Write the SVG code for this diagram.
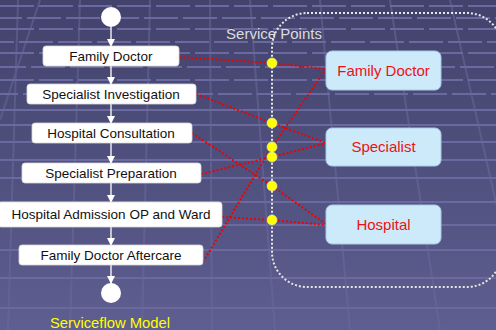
<svg xmlns="http://www.w3.org/2000/svg" width="496" height="330" viewBox="0 0 496 330">
<defs>
<linearGradient id="bg" x1="0" y1="0" x2="0" y2="1">
<stop offset="0" stop-color="#42426c"/>
<stop offset="1" stop-color="#5e5e90"/>
</linearGradient>
<marker id="ah" markerWidth="8" markerHeight="8" refX="7" refY="4" orient="auto" markerUnits="userSpaceOnUse">
<path d="M0,0 L8,4 L0,8 Z" fill="#ffffff"/>
</marker>
<style>
.stripe{stroke:#6a6aa0;stroke-width:2;fill:none}
.tile{stroke:#6a6aa0;stroke-width:2;fill:none;stroke-dasharray:34 5}
.persp{stroke:#6a6a9c;stroke-width:2;fill:none;opacity:0.55}
.flow{fill:#ffffff;stroke:#d8d8d8;stroke-width:0.8}
.ft{font-family:"Liberation Sans",Arial,sans-serif;font-size:13.5px;fill:#111111;text-anchor:middle}
.svc{fill:#cdeafa;stroke:#a9c8e4;stroke-width:1}
.st{font-family:"Liberation Sans",Arial,sans-serif;font-size:15px;fill:#ee1111;text-anchor:middle}
.arr{stroke:#ffffff;stroke-width:1.3;fill:none;marker-end:url(#ah)}
.red{stroke:#ee0000;stroke-width:2;fill:none;stroke-dasharray:2 2}
.dot{fill:#ffff00;stroke:#e8e8c0;stroke-width:0.6}
</style>
</defs>
<rect x="0" y="0" width="496" height="330" fill="url(#bg)"/>
<g id="background">
<path class="tile" d="M0,6H496M-12,18H496M0,29H496M-20,42H496M0,53H496M-8,67H496M0,80H496M-16,94H496"/>
<path class="stripe" d="M0,110H496M0,125H496M0,142H496M0,160H496M0,178H496M0,202H496M0,225H496M0,250H496M0,278H496M0,308H496"/>
<path class="persp" d="M18,0L8,330M80,0L70,330M150,0L142,330M210,0L212,330M250,0L275,330M320,0L350,330M390,0L440,330M450,0L525,330M0,120L40,0"/>
</g>
<g id="service-points">
<rect x="272" y="13" width="230" height="274" rx="35" ry="35" fill="none" stroke="#e6e6e6" stroke-width="2" stroke-dasharray="2 2"/>
<text x="274" y="39" font-family="Liberation Sans, Arial, sans-serif" font-size="15" fill="#dcdcdc" text-anchor="middle">Service Points</text>
</g>
<g id="connectors">
<line class="arr" x1="111" y1="27" x2="111" y2="46"/>
<line class="arr" x1="111" y1="66" x2="111" y2="84"/>
<line class="arr" x1="111" y1="104" x2="111" y2="123"/>
<line class="arr" x1="111" y1="143" x2="111" y2="163"/>
<line class="arr" x1="111" y1="183" x2="111" y2="202"/>
<line class="arr" x1="111" y1="227" x2="111" y2="245"/>
<line class="arr" x1="111" y1="265" x2="111" y2="283"/>
<polyline class="red" points="179,57 272,63 326,69"/>
<polyline class="red" points="196,94 272,123 326,143"/>
<polyline class="red" points="192,133 272,186 326,224"/>
<polyline class="red" points="201,174 272,157 326,143"/>
<polyline class="red" points="222,217 272,220 326,225"/>
<polyline class="red" points="203,262 272,147 326,69"/>
</g>
<g id="dots">
<circle class="dot" cx="272" cy="63" r="5"/>
<circle class="dot" cx="272" cy="123" r="5"/>
<circle class="dot" cx="272" cy="147" r="5"/>
<circle class="dot" cx="272" cy="157" r="5"/>
<circle class="dot" cx="272" cy="186" r="5"/>
<circle class="dot" cx="272" cy="220" r="5"/>
</g>
<g id="start"><circle cx="111" cy="17" r="10" fill="#ffffff"/></g>
<g id="n-family-doctor"><rect class="flow" x="43" y="46" width="136" height="20" rx="3"/><text class="ft" x="111" y="61">Family Doctor</text></g>
<g id="n-specialist-investigation"><rect class="flow" x="27" y="84" width="169" height="20" rx="3"/><text class="ft" x="111" y="99">Specialist Investigation</text></g>
<g id="n-hospital-consultation"><rect class="flow" x="32" y="123" width="160" height="20" rx="3"/><text class="ft" x="111" y="138">Hospital Consultation</text></g>
<g id="n-specialist-preparation"><rect class="flow" x="22" y="163" width="179" height="20" rx="3"/><text class="ft" x="111" y="178">Specialist Preparation</text></g>
<g id="n-hospital-admission"><rect class="flow" x="-2" y="202" width="224" height="25" rx="3"/><text class="ft" x="111" y="219">Hospital Admission OP and Ward</text></g>
<g id="n-family-doctor-aftercare"><rect class="flow" x="19" y="245" width="184" height="20" rx="3"/><text class="ft" x="111" y="260">Family Doctor Aftercare</text></g>
<g id="end"><circle cx="111" cy="293" r="10" fill="#ffffff"/></g>
<g id="s-family-doctor"><rect class="svc" x="326" y="51" width="115" height="39" rx="6"/><text class="st" x="383.5" y="76">Family Doctor</text></g>
<g id="s-specialist"><rect class="svc" x="326" y="128" width="115" height="38" rx="6"/><text class="st" x="383.5" y="152">Specialist</text></g>
<g id="s-hospital"><rect class="svc" x="326" y="205" width="115" height="39" rx="6"/><text class="st" x="383.5" y="230">Hospital</text></g>
<text x="110" y="328" font-family="Liberation Sans, Arial, sans-serif" font-size="14.8" fill="#ffff00" text-anchor="middle">Serviceflow Model</text>
</svg>
